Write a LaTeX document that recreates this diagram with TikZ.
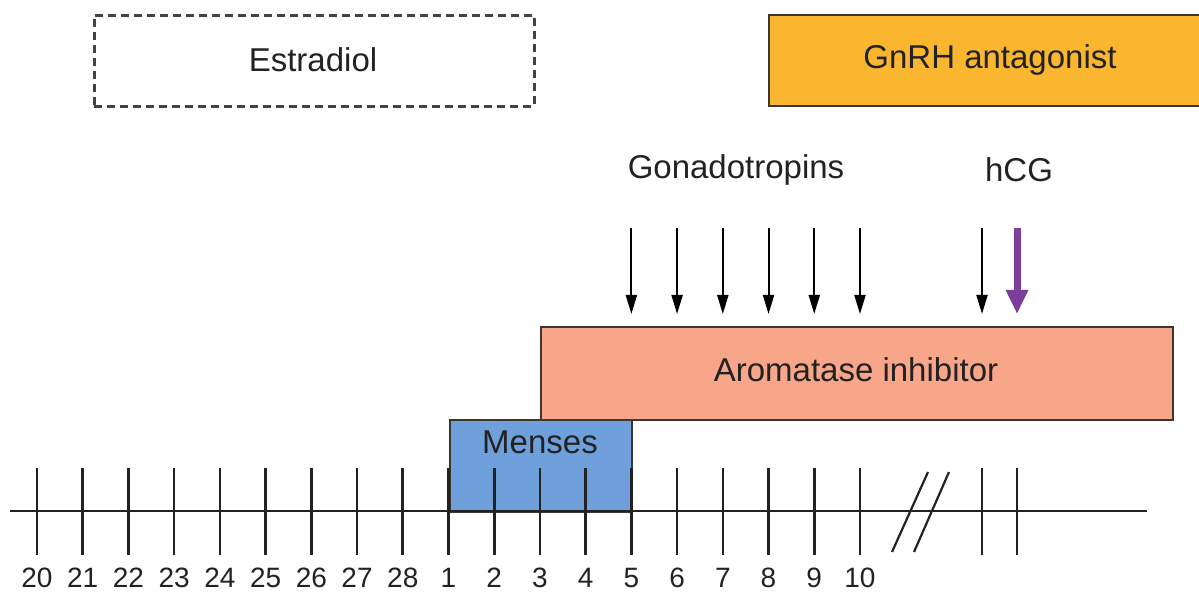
\documentclass[tikz,border=0pt]{standalone}
\usepackage{fontspec}
\setmainfont{Liberation Sans}
\usetikzlibrary{arrows.meta}
\definecolor{gnrhfill}{HTML}{FBB62F}
\definecolor{aromfill}{HTML}{F7A68A}
\definecolor{mensesfill}{HTML}{6FA0DC}
\definecolor{hcgpurple}{HTML}{7B3F99}
\definecolor{edgegrey}{HTML}{3C3530}
\definecolor{inkgrey}{HTML}{222222}
\begin{document}
\begin{tikzpicture}[x=1pt,y=-1pt,
  box/.style={draw=edgegrey, line width=2pt, inner sep=0pt, anchor=north west},
  dashbox/.style={draw=inkgrey!85, line width=2.6pt, dash pattern=on 8pt off 5pt, inner sep=0pt, anchor=north west},
  lbl/.style={font=\fontsize{33}{39}\selectfont, text=inkgrey, inner sep=0pt},
  numlbl/.style={font=\fontsize{28}{32}\selectfont, text=inkgrey, inner sep=0pt},
  gonarrow/.style={draw=black, line width=2pt, -{Triangle[length=19pt,width=11pt]}},
  hcgarrow/.style={draw=hcgpurple, line width=7pt, -{Triangle[length=24pt,width=21pt]}},
  tickline/.style={draw=inkgrey, line width=2.6pt},
  axisline/.style={draw=inkgrey, line width=2.6pt}
]
\useasboundingbox (0,0) rectangle (1199,593);
\clip (0,0) rectangle (1199,593);

% top boxes
\node[dashbox, minimum width=440pt, minimum height=91pt] (estradiol) at (93,14) {};
\node[lbl] (estradioltxt) at (313,60) {Estradiol};
\node[box, fill=gnrhfill, minimum width=450pt, minimum height=91pt] (gnrh) at (768,14) {};
\node[lbl] (gnrhtxt) at (990,60) {GnRH antagonist};

% labels
\node[lbl] (gonad) at (736,170) {Gonadotropins};
\node[lbl] (hcg) at (1019,170) {hCG};

% aromatase inhibitor
\node[box, fill=aromfill, minimum width=632pt, minimum height=93pt] (arom) at (540,326) {};
\node[lbl] (aromtxt) at (856,370) {Aromatase inhibitor};

% menses
\node[box, fill=mensesfill, minimum width=182pt, minimum height=92pt] (menses) at (449,419) {};
\node[lbl] (mensestxt) at (540,442) {Menses};

% axis
\coordinate (axisL) at (10,511);
\coordinate (axisR) at (1147,511);
\draw[axisline] (axisL) -- (axisR);

% ticks and day labels
\foreach \i/\d in {0/20,1/21,2/22,3/23,4/24,5/25,6/26,7/27,8/28,9/1,10/2,11/3,12/4,13/5,14/6,15/7,16/8,17/9,18/10}{
  \coordinate (t\i top) at ({37+45.72*\i},468);
  \coordinate (t\i bot) at ({37+45.72*\i},555);
  \draw[tickline] (t\i top) -- (t\i bot);
  \node[numlbl] (day\i) at ({37+45.72*\i},578) {\d};
}
\coordinate (t19top) at (982,468);
\coordinate (t19bot) at (982,555);
\draw[tickline] (t19top) -- (t19bot);
\coordinate (t20top) at (1017,468);
\coordinate (t20bot) at (1017,555);
\draw[tickline] (t20top) -- (t20bot);

% break marks
\coordinate (brA1) at (892,552);
\coordinate (brA2) at (928,472);
\coordinate (brB1) at (914,552);
\coordinate (brB2) at (949,472);
\draw[tickline, line width=2.2pt] (brA1) -- (brA2);
\draw[tickline, line width=2.2pt] (brB1) -- (brB2);

% gonadotropin arrows
\foreach \i in {13,14,15,16,17,18}{
  \coordinate (g\i top) at ({37+45.72*\i},228);
  \coordinate (g\i tip) at ({37+45.72*\i},314);
  \draw[gonarrow] (g\i top) -- (g\i tip);
}
\coordinate (g19top) at (982,228);
\coordinate (g19tip) at (982,314);
\draw[gonarrow] (g19top) -- (g19tip);

% hCG arrow
\coordinate (hcgtop) at (1017,228);
\coordinate (hcgtip) at (1017,314);
\draw[hcgarrow] (hcgtop) -- (hcgtip);
\end{tikzpicture}
\end{document}
